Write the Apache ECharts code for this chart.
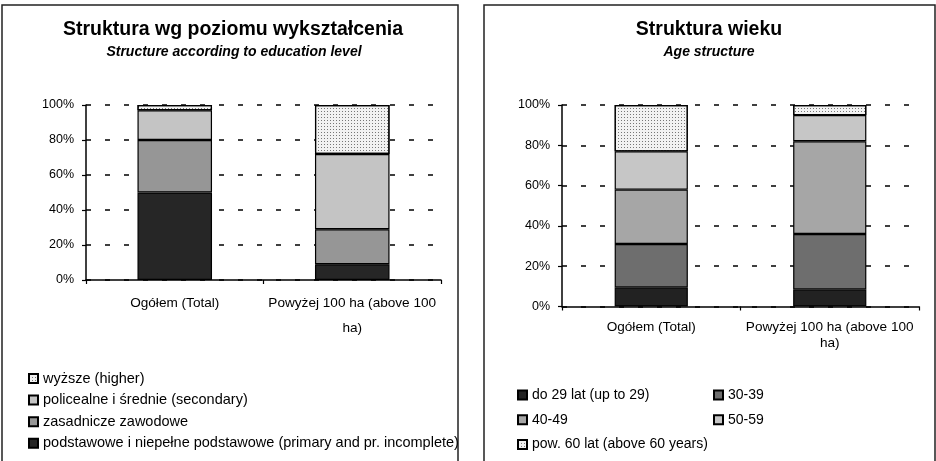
<!DOCTYPE html>
<html>
<head>
<meta charset="utf-8">
<script src="https://cdn.jsdelivr.net/npm/echarts@6/dist/echarts.min.js"></script>
<style>
html,body{margin:0;padding:0;background:#fff;}
#c{width:936px;height:461px;}
</style>
</head>
<body>
<div id="c"></div>
<script>
// ---- data ----
var categories = ['Ogółem (Total)', 'Powyżej 100 ha (above 100\nha)'];
var yTicks = [0, 20, 40, 60, 80, 100];

// education structure (% of total)
var eduPrimary    = [50, 9];
var eduVocational = [30, 20];
var eduSecondary  = [17, 43];
var eduHigher     = [3, 28];

// age structure (%)
var ageUpTo29 = [9.5, 8.5];
var age30to39 = [21.5, 27.5];
var age40to49 = [27, 46];
var age50to59 = [19, 13];
var age60plus = [23, 5];

var eduNames = [
  'podstawowe i niepełne podstawowe (primary and pr. incomplete)',
  'zasadnicze zawodowe',
  'policealne i średnie (secondary)',
  'wyższe (higher)'
];
var ageNames = [
  'do 29 lat (up to 29)',
  '30-39',
  '40-49',
  '50-59',
  'pow. 60 lat (above 60 years)'
];

var FONT = '"Liberation Sans", Arial, sans-serif';

function bar(name, data, color, axisIdx, bw, decal) {
  var s = {
    name: name, type: 'bar', stack: 's' + axisIdx,
    xAxisIndex: axisIdx, yAxisIndex: axisIdx,
    data: data, barWidth: bw,
    itemStyle: {color: color, borderColor: '#000', borderWidth: 1.2},
    emphasis: {disabled: true},
    animation: false
  };
  if (decal) s.itemStyle.decal = decal;
  return s;
}
var dots = {symbol: 'rect', symbolSize: 1, color: '#777', dashArrayX: [1, 2], dashArrayY: [1, 2]};

function yAxis(gi) {
  return {
    type: 'value', gridIndex: gi, min: 0, max: 100, interval: 20,
    axisLine: {show: true, lineStyle: {color: '#000', width: 1.5}},
    axisTick: {show: true, length: 4, lineStyle: {color: '#000', width: 1.2}},
    axisLabel: {formatter: '{value}%', color: '#000', fontSize: 12.5, fontFamily: FONT, margin: 12},
    splitLine: {show: true, lineStyle: {color: '#000', width: 1.5, type: [5, 14]}}
  };
}
function xAxis(gi, lh, margin) {
  return {
    type: 'category', gridIndex: gi, data: categories,
    axisLine: {show: true, lineStyle: {color: '#000', width: 1.5}},
    axisTick: {show: true, length: 4, lineStyle: {color: '#000', width: 1.2}},
    axisLabel: {interval: 0, color: '#000', fontSize: 13.6, fontFamily: FONT, lineHeight: lh, margin: margin}
  };
}

var legendText = {fontSize: 14, fontFamily: FONT, color: '#000', lineHeight: 14};
var legendTextL = {fontSize: 14.5, fontFamily: FONT, color: '#000', lineHeight: 14};

var chart = echarts.init(document.getElementById('c'), null, {renderer: 'canvas'});
chart.setOption({
  backgroundColor: '#fff',
  animation: false,
  title: [
    {text: 'Struktura wg poziomu wykształcenia', left: 233, top: 20, textAlign: 'center', padding: 0,
     textStyle: {fontSize: 19.5, fontWeight: 'bold', fontFamily: FONT, color: '#000', lineHeight: 20}},
    {text: 'Structure according to education level', left: 234, top: 45, textAlign: 'center', padding: 0,
     textStyle: {fontSize: 14, fontWeight: 'bold', fontStyle: 'italic', fontFamily: FONT, color: '#000', lineHeight: 14}},
    {text: 'Struktura wieku', left: 709, top: 20, textAlign: 'center', padding: 0,
     textStyle: {fontSize: 19.5, fontWeight: 'bold', fontFamily: FONT, color: '#000', lineHeight: 20}},
    {text: 'Age structure', left: 709, top: 45, textAlign: 'center', padding: 0,
     textStyle: {fontSize: 14, fontWeight: 'bold', fontStyle: 'italic', fontFamily: FONT, color: '#000', lineHeight: 14}}
  ],
  legend: [
    {orient: 'vertical', left: 28, top: 371, padding: 0, itemWidth: 9, itemHeight: 9, itemGap: 6.6,
     icon: 'rect', selectedMode: false,
     data: [eduNames[3], eduNames[2], eduNames[1], eduNames[0]],
     textStyle: legendTextL},
    {orient: 'vertical', left: 517, top: 388, padding: 0, itemWidth: 9, itemHeight: 9, itemGap: 10.7,
     icon: 'rect', selectedMode: false,
     data: [ageNames[0], ageNames[2], ageNames[4]],
     textStyle: legendText},
    {orient: 'vertical', left: 713, top: 388, padding: 0, itemWidth: 9, itemHeight: 9, itemGap: 10.7,
     icon: 'rect', selectedMode: false,
     data: [ageNames[1], ageNames[3]],
     textStyle: legendText}
  ],
  grid: [
    {left: 86, right: 495, top: 105, bottom: 181, containLabel: false},
    {left: 562, right: 17, top: 105, bottom: 154.5, containLabel: false}
  ],
  xAxis: [xAxis(0, 25, 10.5), xAxis(1, 15.5, 13)],
  yAxis: [yAxis(0), yAxis(1)],
  series: [
    bar(eduNames[0], eduPrimary, '#262626', 0, '42%'),
    bar(eduNames[1], eduVocational, '#969696', 0, '42%'),
    bar(eduNames[2], eduSecondary, '#c4c4c4', 0, '42%'),
    bar(eduNames[3], eduHigher, '#f2f2f2', 0, '42%', dots),
    bar(ageNames[0], ageUpTo29, '#222222', 1, '41%'),
    bar(ageNames[1], age30to39, '#6e6e6e', 1, '41%'),
    bar(ageNames[2], age40to49, '#a6a6a6', 1, '41%'),
    bar(ageNames[3], age50to59, '#c6c6c6', 1, '41%'),
    bar(ageNames[4], age60plus, '#f2f2f2', 1, '41%', dots)
  ],
  graphic: [
    {type: 'rect', shape: {x: 2, y: 5, width: 456, height: 470}, silent: true,
     style: {fill: 'none', stroke: '#222', lineWidth: 1.5}},
    {type: 'rect', shape: {x: 484, y: 5, width: 451, height: 470}, silent: true,
     style: {fill: 'none', stroke: '#222', lineWidth: 1.5}}
  ]
});
</script>
</body>
</html>
